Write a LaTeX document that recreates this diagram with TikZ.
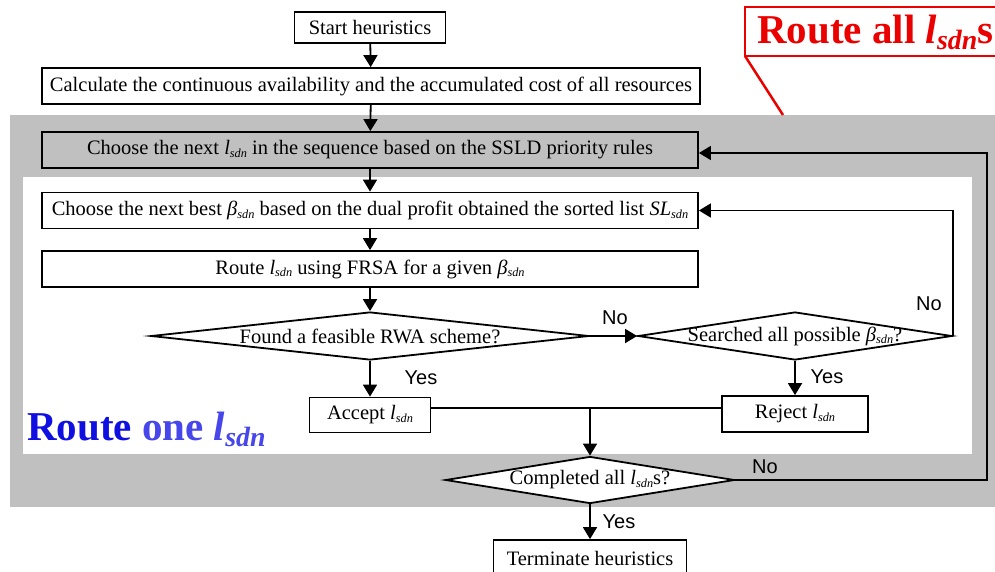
\documentclass[tikz,border=0pt]{standalone}
\usepackage{fontspec}
\usepackage{graphicx}
\setmainfont{Liberation Serif}
\newfontfamily\sansf{Liberation Sans}
\usetikzlibrary{shapes.geometric,arrows.meta}
\definecolor{bggray}{RGB}{192,192,192}
\definecolor{callred}{RGB}{235,0,0}
\definecolor{darkblue}{RGB}{15,15,225}
\definecolor{lightblue}{RGB}{70,70,235}
\newcommand\mysub[1]{\raisebox{-0.3ex}{\scalebox{0.6}{\itshape #1}}}
\newcommand\bigsub[1]{\raisebox{-0.35ex}{\scalebox{0.68}{\itshape #1}}}
\newcommand\lsdn{\textit{l}\mysub{sdn}}
\newcommand\bsdn{\textit{β}\mysub{sdn}}
\begin{document}
\begin{tikzpicture}[x=1pt,y=-1pt,
  txt/.style={font=\fontsize{20.5}{24}\selectfont},
  procbox/.style={txt,draw=black,line width=1.8pt,inner sep=0pt,fill=white},
  widebox/.style={procbox,minimum width=656pt,minimum height=36pt},
  decision/.style={txt,draw=black,line width=1.8pt,diamond,inner sep=0pt,fill=white},
  lbl/.style={font=\sansf\fontsize{20}{24}\selectfont,inner sep=0pt},
  arr/.style={line width=1.8pt,-{Triangle[length=12pt,width=14pt]}},
  ln/.style={line width=1.8pt}]
\useasboundingbox (0,0) rectangle (995,571);
% regions
\fill[bggray] (10,115) rectangle (995,507);
\fill[white] (23,177) rectangle (972,454);
% boxes
\node[procbox,minimum width=151pt,minimum height=31pt] (start) at (370,27.5) {Start heuristics};
\node[widebox,minimum width=658pt] (calc) at (371,86) {Calculate the continuous availability and the accumulated cost of all resources};
\node[widebox,fill=bggray] (choose) at (370,150) {Choose the next \lsdn{} in the sequence based on the SSLD priority rules};
\node[widebox] (beta) at (370,210.5) {Choose the next best \bsdn{} based on the dual profit obtained the sorted list \textit{SL}\mysub{sdn}};
\node[widebox] (route) at (370,269) {Route \lsdn{} using FRSA for a given \bsdn};
\node[decision,minimum width=438pt,minimum height=48pt] (found) at (370,336) {\makebox[0pt]{Found a feasible RWA scheme?}};
\node[decision,minimum width=314pt,minimum height=48pt] (search) at (795,336) {\makebox[0pt]{Searched all possible \bsdn?}};
\node[procbox,minimum width=121pt,minimum height=35pt] (acc) at (370,415) {Accept \lsdn};
\node[procbox,minimum width=146pt,minimum height=36pt] (rej) at (795,414) {Reject \lsdn};
\node[decision,minimum width=289pt,minimum height=47pt] (comp) at (590,480) {\makebox[0pt]{Completed all \lsdn s?}};
\node[procbox,minimum width=193pt,minimum height=36pt] (term) at (590,558) {Terminate heuristics};
% connectors
\draw[arr] (start) -- (calc);
\draw[arr] (calc) -- (choose);
\draw[arr] (choose) -- (beta);
\draw[arr] (beta) -- (route);
\draw[arr] (route) -- (found);
\draw[arr] (found) -- (search);
\draw[arr] (found) -- (acc);
\draw[arr] (search) -- (rej);
\draw[arr] (search.east) |- (beta.east);
\coordinate (junc) at (590,408);
\draw[ln] ([yshift=7pt]acc.east) -- ([yshift=6pt]rej.west);
\draw[arr] (junc) -- (comp.north);
\coordinate (loopR) at (987,480);
\draw[arr] (comp.east) -- (loopR) |- ([yshift=-3pt]choose.east);
\draw[arr] (comp) -- (term);
% labels
\node[lbl] (noA) at (615,318) {No};
\node[lbl] (noB) at (929,304) {No};
\node[lbl] (yesA) at (421,378) {Yes};
\node[lbl] (yesB) at (827,377) {Yes};
\node[lbl] (noC) at (765,467) {No};
\node[lbl] (yesC) at (619,522) {Yes};
% titles
\node[font=\bfseries\fontsize{41}{44}\selectfont,inner sep=0pt,anchor=base west] (one) at (27,440)
  {\textcolor{darkblue}{Route} \textcolor{lightblue}{one \textit{l}\bigsub{sdn}}};
\draw[callred,line width=2.5pt] (1000,7) -- (745,7) -- (745,56) -- (1000,56);
\coordinate (calltip) at (783,115);
\draw[callred,line width=2.5pt] (745,56) -- (calltip);
\node[font=\bfseries\fontsize{41}{44}\selectfont,inner sep=0pt,anchor=base west,text=callred] (all) at (757,43)
  {Route all \textit{l}\bigsub{sdn}s};
\end{tikzpicture}
\end{document}
